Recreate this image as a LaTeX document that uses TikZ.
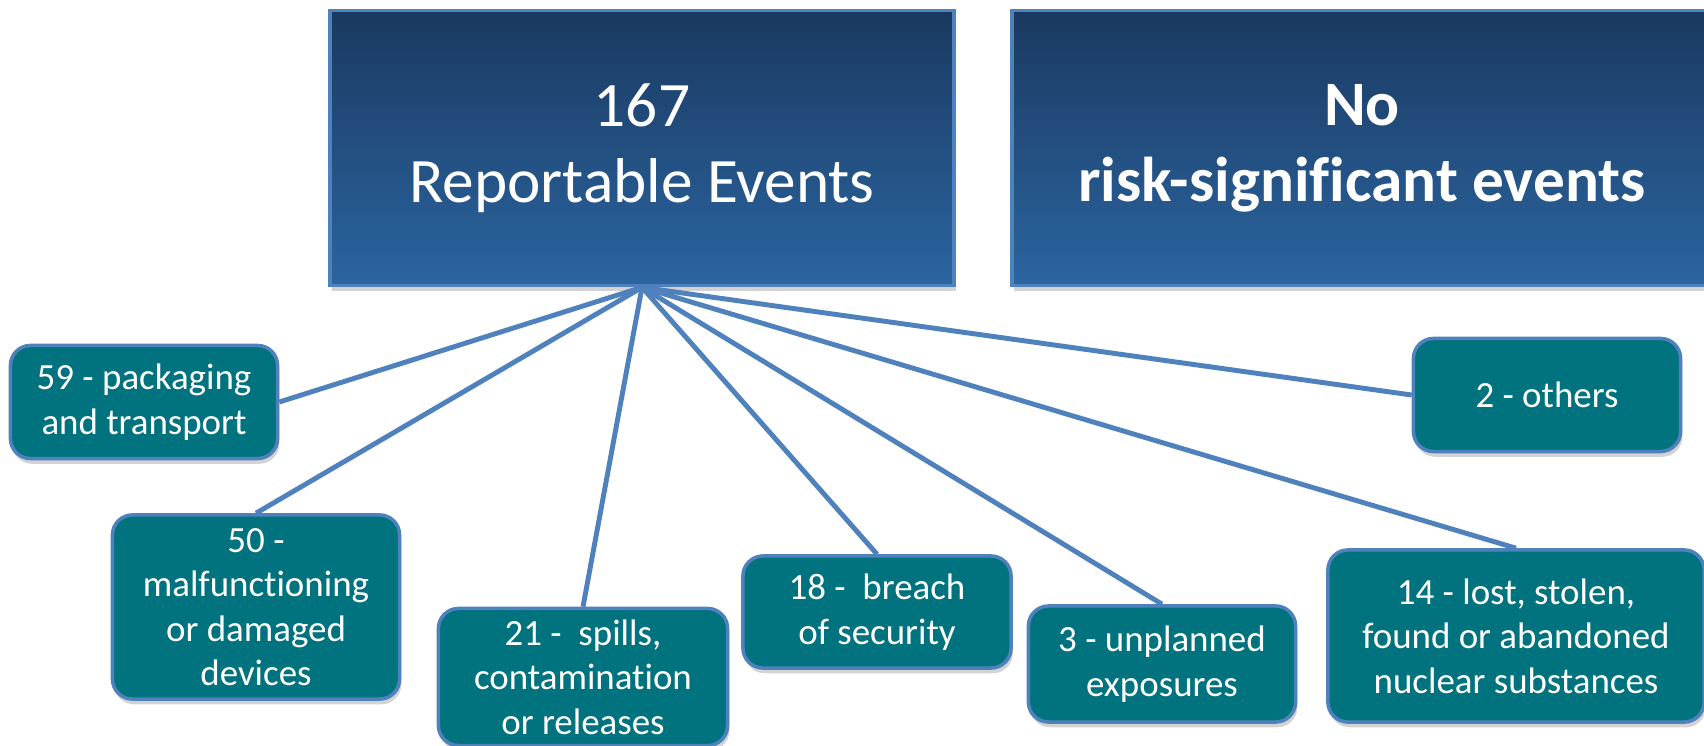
\documentclass[tikz,border=0pt]{standalone}
\usepackage{fontspec}
\setmainfont{Carlito}[RawFeature={-liga}]
\usetikzlibrary{shadows}
\definecolor{navytop}{HTML}{1A3960}
\definecolor{navybot}{HTML}{2B65A0}
\definecolor{rim}{HTML}{4F81BD}
\definecolor{boxteal}{HTML}{00737F}
\begin{document}
\begin{tikzpicture}[x=0.01cm,y=-0.01cm]
\tikzstyle{every node}+=[inner sep=0pt, text=white, align=center]
\tikzstyle{bigbox}=[draw=rim, line width=1pt, top color=navytop, bottom color=navybot, font=\fontsize{18}{21.6}\selectfont, drop shadow={opacity=0.35, shadow xshift=0.5pt, shadow yshift=-1.5pt}]
\tikzstyle{catbox}=[draw=rim, line width=1pt, fill=boxteal, rounded corners=0.2cm, font=\fontsize{10.5}{12.6}\selectfont, drop shadow={opacity=0.35, shadow xshift=0.5pt, shadow yshift=-1.5pt}]
\tikzstyle{spoke}=[draw=rim, line width=1.4pt]
\useasboundingbox (0,0) rectangle (1704,746);
\node [bigbox, minimum width=6.24cm, minimum height=2.75cm] (total) at (642,148) {167\\Reportable Events};
\node [bigbox, minimum width=7.0cm, minimum height=2.75cm, font=\fontsize{18}{21.6}\selectfont\bfseries] (risk) at (1362,148) {No\\risk-significant events};
\node [catbox, minimum width=2.67cm, minimum height=1.13cm] (pack) at (144,402) {59 - packaging\\and transport};
\node [catbox, minimum width=2.87cm, minimum height=1.84cm] (devices) at (256,607) {50 -\\malfunctioning\\or damaged\\devices};
\node [catbox, minimum width=2.89cm, minimum height=1.37cm] (spills) at (583,677) {21 - \ spills,\\contamination\\or releases};
\node [catbox, minimum width=2.68cm, minimum height=1.12cm] (breach) at (877,612) {18 - \ breach\\of security};
\node [catbox, minimum width=2.67cm, minimum height=1.16cm] (exposure) at (1162,664) {3 - unplanned\\exposures};
\node [catbox, minimum width=3.76cm, minimum height=1.72cm] (lost) at (1516,636) {14 - lost, stolen,\\found or abandoned\\nuclear substances};
\node [catbox, minimum width=2.67cm, minimum height=1.13cm] (others) at (1547,395) {2 - others};
\draw [spoke] (total.south) -- (pack.east);
\draw [spoke] (total.south) -- (devices.north);
\draw [spoke] (total.south) -- (spills.north);
\draw [spoke] (total.south) -- (breach.north);
\draw [spoke] (total.south) -- (exposure.north);
\draw [spoke] (total.south) -- (lost.north);
\draw [spoke] (total.south) -- (others.west);
\end{tikzpicture}
\end{document}
